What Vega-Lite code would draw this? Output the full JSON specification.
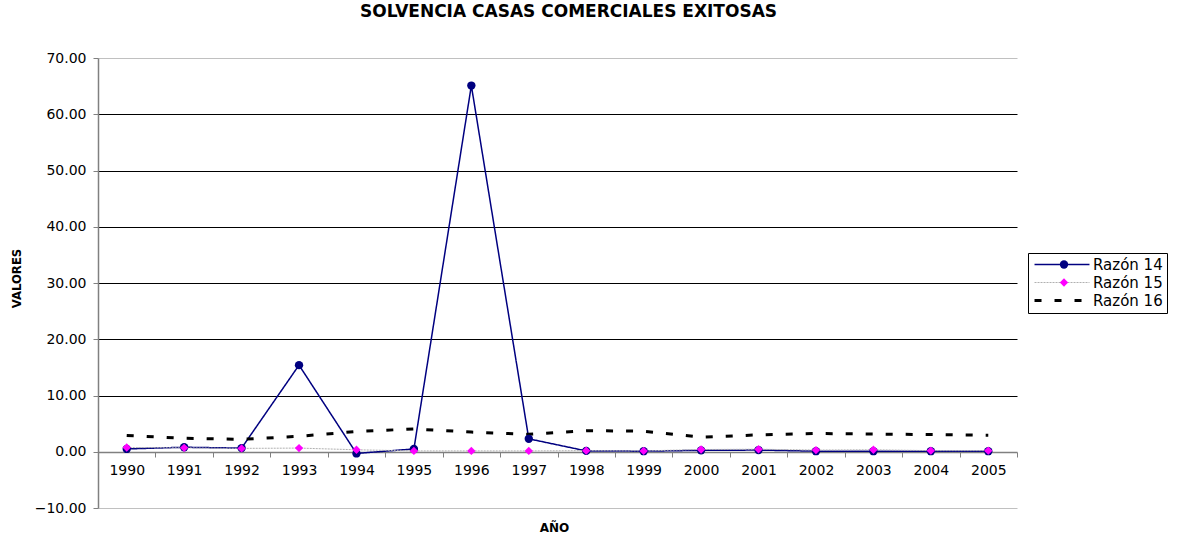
{
  "$schema": "https://vega.github.io/schema/vega-lite/v6.json",
  "width": 919,
  "height": 450,
  "autosize": "none",
  "padding": {"left": 98, "top": 58, "right": 160, "bottom": 29},
  "background": "white",
  "config": {
    "view": {"stroke": null},
    "font": "DejaVu Sans"
  },
  "title": {
    "text": "SOLVENCIA CASAS COMERCIALES EXITOSAS",
    "fontSize": 17,
    "fontWeight": "bold",
    "font": "DejaVu Sans",
    "color": "black",
    "offset": 30,
    "dx": 11
  },
  "data": {
    "values": [
      {"year": "1990", "series": "Razón 14", "value": 0.5},
      {"year": "1991", "series": "Razón 14", "value": 0.8},
      {"year": "1992", "series": "Razón 14", "value": 0.65},
      {"year": "1993", "series": "Razón 14", "value": 15.4},
      {"year": "1994", "series": "Razón 14", "value": -0.3},
      {"year": "1995", "series": "Razón 14", "value": 0.5},
      {"year": "1996", "series": "Razón 14", "value": 65.1},
      {"year": "1997", "series": "Razón 14", "value": 2.3},
      {"year": "1998", "series": "Razón 14", "value": 0.15},
      {"year": "1999", "series": "Razón 14", "value": 0.1},
      {"year": "2000", "series": "Razón 14", "value": 0.25},
      {"year": "2001", "series": "Razón 14", "value": 0.3},
      {"year": "2002", "series": "Razón 14", "value": 0.1},
      {"year": "2003", "series": "Razón 14", "value": 0.1},
      {"year": "2004", "series": "Razón 14", "value": 0.1},
      {"year": "2005", "series": "Razón 14", "value": 0.1},
      {"year": "1990", "series": "Razón 15", "value": 0.75},
      {"year": "1991", "series": "Razón 15", "value": 0.7},
      {"year": "1992", "series": "Razón 15", "value": 0.6},
      {"year": "1993", "series": "Razón 15", "value": 0.65},
      {"year": "1994", "series": "Razón 15", "value": 0.35},
      {"year": "1995", "series": "Razón 15", "value": 0.15},
      {"year": "1996", "series": "Razón 15", "value": 0.15},
      {"year": "1997", "series": "Razón 15", "value": 0.15},
      {"year": "1998", "series": "Razón 15", "value": 0.2},
      {"year": "1999", "series": "Razón 15", "value": 0.15},
      {"year": "2000", "series": "Razón 15", "value": 0.4},
      {"year": "2001", "series": "Razón 15", "value": 0.45},
      {"year": "2002", "series": "Razón 15", "value": 0.3},
      {"year": "2003", "series": "Razón 15", "value": 0.35},
      {"year": "2004", "series": "Razón 15", "value": 0.2},
      {"year": "2005", "series": "Razón 15", "value": 0.2},
      {"year": "1990", "series": "Razón 16", "value": 2.9},
      {"year": "1991", "series": "Razón 16", "value": 2.4},
      {"year": "1992", "series": "Razón 16", "value": 2.2},
      {"year": "1993", "series": "Razón 16", "value": 2.75},
      {"year": "1994", "series": "Razón 16", "value": 3.6},
      {"year": "1995", "series": "Razón 16", "value": 4.05},
      {"year": "1996", "series": "Razón 16", "value": 3.5},
      {"year": "1997", "series": "Razón 16", "value": 3.1},
      {"year": "1998", "series": "Razón 16", "value": 3.75},
      {"year": "1999", "series": "Razón 16", "value": 3.65},
      {"year": "2000", "series": "Razón 16", "value": 2.6},
      {"year": "2001", "series": "Razón 16", "value": 3.0},
      {"year": "2002", "series": "Razón 16", "value": 3.25},
      {"year": "2003", "series": "Razón 16", "value": 3.15},
      {"year": "2004", "series": "Razón 16", "value": 3.05},
      {"year": "2005", "series": "Razón 16", "value": 2.95}
    ]
  },
  "encoding": {
    "x": {
      "field": "year",
      "type": "ordinal",
      "scale": {"type": "band", "paddingInner": 0, "paddingOuter": 0},
      "axis": {
        "title": "AÑO",
        "titleFont": "DejaVu Sans",
        "titleFontSize": 12,
        "titleFontWeight": "bold",
        "titleColor": "black",
        "titleX": 456,
        "titleY": 75,
        "titleBaseline": "middle",
        "titleAlign": "center",
        "labelAngle": 0,
        "labelFont": "DejaVu Sans",
        "labelFontSize": 14,
        "labelColor": "black",
        "labelPadding": 6,
        "offset": -56,
        "tickBand": "extent",
        "tickSize": 5,
        "tickColor": "#808080",
        "domainColor": "#808080",
        "domainWidth": 1.5,
        "grid": false
      }
    },
    "y": {
      "field": "value",
      "type": "quantitative",
      "scale": {"domain": [-10, 70], "nice": false, "zero": false},
      "axis": {
        "title": "VALORES",
        "titleFont": "DejaVu Sans Condensed",
        "titleFontSize": 13,
        "titleFontWeight": "bold",
        "titleColor": "black",
        "titleX": -81.5,
        "titleY": 220,
        "titleAngle": -90,
        "titleAlign": "center",
        "titleBaseline": "middle",
        "values": [-10, 0, 10, 20, 30, 40, 50, 60, 70],
        "format": ".2f",
        "labelFont": "DejaVu Sans",
        "labelFontSize": 14,
        "labelColor": "black",
        "labelPadding": 7,
        "tickSize": 5,
        "tickColor": "#808080",
        "domainColor": "#808080",
        "domainWidth": 1.5,
        "grid": true,
        "gridColor": {
          "condition": [
            {"test": "datum.value === 0", "value": "transparent"},
            {"test": "datum.value === 70 || datum.value === -10", "value": "#c0c0c0"}
          ],
          "value": "black"
        },
        "gridWidth": 1
      }
    }
  },
  "layer": [
    {
      "mark": {"type": "line"},
      "encoding": {
        "color": {
          "field": "series",
          "type": "nominal",
          "scale": {"range": ["#000080", "#b0b0b0", "#000000"]},
          "legend": {
            "title": null,
            "orient": "none",
            "legendX": 930,
            "legendY": 195,
            "symbolType": "M-0.83,0H8.33",
            "symbolSize": 144,
            "labelFont": "DejaVu Sans",
            "labelFontSize": 15,
            "labelColor": "black",
            "strokeColor": "black",
            "fillColor": "white",
            "padding": 4,
            "rowPadding": 2,
            "labelOffset": 46
          }
        },
        "strokeDash": {
          "field": "series",
          "type": "nominal",
          "scale": {"range": [[1, 0], [2, 1], [7, 13]]},
          "legend": {
            "title": null,
            "orient": "none",
            "legendX": 930,
            "legendY": 195,
            "symbolType": "M-0.83,0H8.33",
            "symbolSize": 144,
            "labelFont": "DejaVu Sans",
            "labelFontSize": 15,
            "labelColor": "black",
            "strokeColor": "black",
            "fillColor": "white",
            "padding": 4,
            "rowPadding": 2,
            "labelOffset": 46
          }
        },
        "strokeWidth": {
          "field": "series",
          "type": "nominal",
          "scale": {"type": "ordinal", "range": [1.5, 1, 3]},
          "legend": {
            "title": null,
            "orient": "none",
            "legendX": 930,
            "legendY": 195,
            "symbolType": "M-0.83,0H8.33",
            "symbolSize": 144,
            "labelFont": "DejaVu Sans",
            "labelFontSize": 15,
            "labelColor": "black",
            "strokeColor": "black",
            "fillColor": "white",
            "padding": 4,
            "rowPadding": 2,
            "labelOffset": 46
          }
        }
      }
    },
    {
      "transform": [{"filter": "datum.series !== 'Razón 16'"}],
      "mark": {"type": "point", "filled": true, "opacity": 1, "size": 70, "strokeWidth": 0},
      "encoding": {
        "shape": {
          "field": "series",
          "type": "nominal",
          "scale": {"domain": ["Razón 14", "Razón 15", "Razón 16"], "range": ["circle", "diamond", "circle"]},
          "legend": {
            "title": null,
            "orient": "none",
            "legendX": 954.5,
            "legendY": 195,
            "symbolSize": 70,
            "symbolStrokeWidth": 0,
            "labelFont": "DejaVu Sans",
            "labelFontSize": 15,
            "labelExpr": "' '",
            "labelColor": "transparent",
            "strokeColor": null,
            "fillColor": null,
            "padding": 4,
            "rowPadding": 2,
            "labelOffset": 4
          }
        },
        "fill": {
          "field": "series",
          "type": "nominal",
          "scale": {"domain": ["Razón 14", "Razón 15", "Razón 16"], "range": ["#000080", "#ff00ff", "transparent"]},
          "legend": {
            "title": null,
            "orient": "none",
            "legendX": 954.5,
            "legendY": 195,
            "symbolSize": 70,
            "symbolStrokeWidth": 0,
            "labelFont": "DejaVu Sans",
            "labelFontSize": 15,
            "labelExpr": "' '",
            "labelColor": "transparent",
            "strokeColor": null,
            "fillColor": null,
            "padding": 4,
            "rowPadding": 2,
            "labelOffset": 4
          }
        }
      }
    }
  ],
  "resolve": {"legend": {"shape": "independent", "fill": "independent"}}
}
